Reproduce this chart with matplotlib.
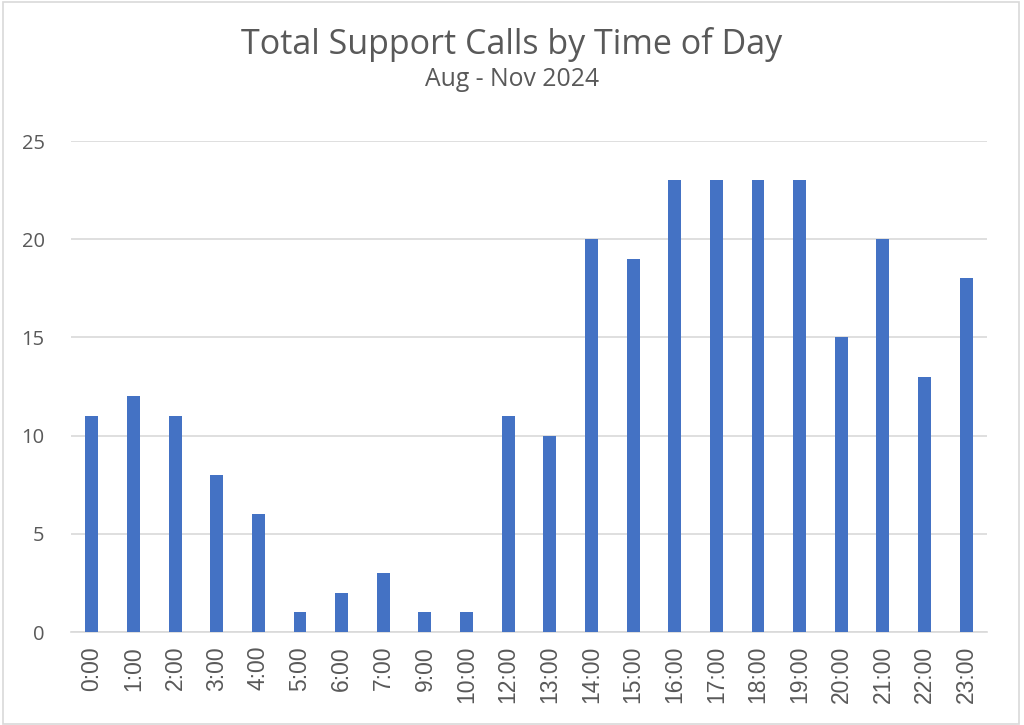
import matplotlib
matplotlib.use("Agg")
import matplotlib.pyplot as plt
from matplotlib.patches import Rectangle

# data
hours = ["0:00", "1:00", "2:00", "3:00", "4:00", "5:00", "6:00", "7:00", "9:00", "10:00",
         "12:00", "13:00", "14:00", "15:00", "16:00", "17:00", "18:00", "19:00",
         "20:00", "21:00", "22:00", "23:00"]
calls = [11, 12, 11, 8, 6, 1, 2, 3, 1, 1, 11, 10, 20, 19, 23, 23, 23, 23, 15, 20, 13, 18]

text_color = "#595959"
bar_color = "#4472C4"
grid_color = "#D9D9D9"

fig = plt.figure(figsize=(10.24, 7.25), dpi=100)
ax = fig.add_axes([71 / 1024, 1 - 632 / 725, (987 - 71) / 1024, (632 - 141) / 725])

x = range(len(hours))
ax.bar(x, calls, width=0.31, color=bar_color, zorder=3)

ax.set_xlim(-0.5, len(hours) - 0.5)
ax.set_ylim(0, 25)
ax.set_yticks([0, 5, 10, 15, 20, 25])
ax.set_xticks(list(x))
ax.set_xticklabels(hours, rotation=90, fontfamily="Liberation Sans", fontsize=16.5, color=text_color)
for lbl in ax.get_yticklabels():
    lbl.set_fontfamily("Open Sans")
    lbl.set_fontsize(14.5)
    lbl.set_color(text_color)

ax.grid(axis="y", color=grid_color, linewidth=1.2, zorder=0)
for side in ["top", "right", "left"]:
    ax.spines[side].set_visible(False)
ax.spines["bottom"].set_color(grid_color)
ax.spines["bottom"].set_linewidth(1.2)
ax.tick_params(axis="both", length=0)
ax.tick_params(axis="y", pad=19)
ax.tick_params(axis="x", pad=10)

fig.text(0.5, 1 - 44 / 725, "Total Support Calls by Time of Day", ha="center", va="center",
         fontfamily="Open Sans", fontsize=24.5, color=text_color)
fig.text(0.5, 1 - 80 / 725, "Aug - Nov 2024", ha="center", va="center",
         fontfamily="Open Sans", fontsize=17.8, color=text_color)

# light frame around the whole chart
fig.patches.append(Rectangle((3 / 1024, 1 / 725), 1016 / 1024, 722 / 725, transform=fig.transFigure,
                             fill=False, edgecolor=grid_color, linewidth=1.2))

fig.savefig("out.png", dpi=100)
